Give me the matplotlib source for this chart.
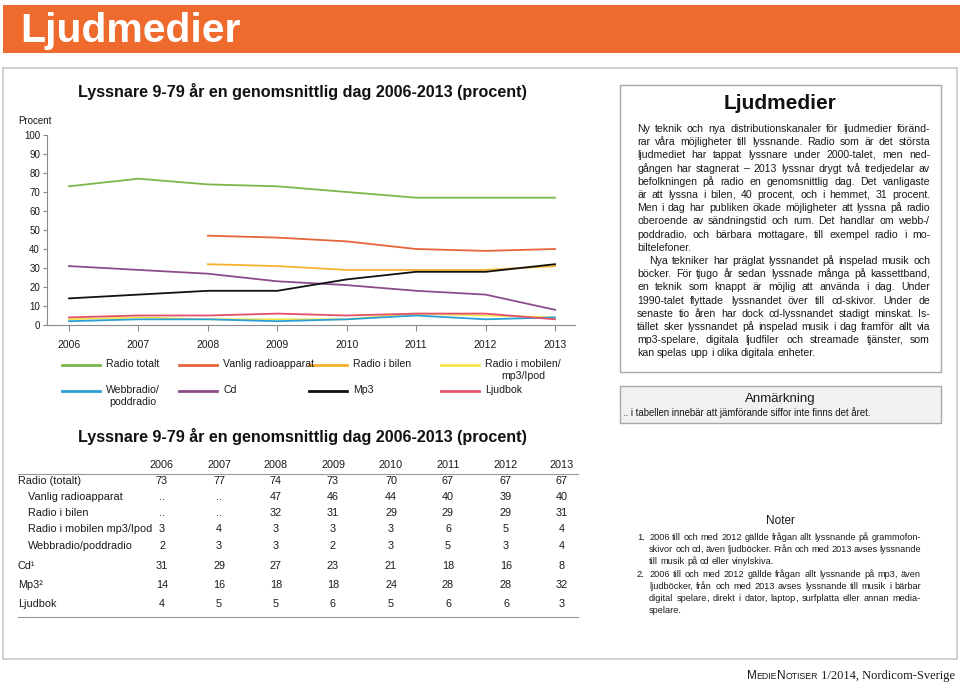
import numpy as np
import matplotlib
matplotlib.use("Agg")
import matplotlib.pyplot as plt
from matplotlib.patches import Rectangle

plt.rcParams['font.family'] = ['Liberation Sans', 'DejaVu Sans']

# Data (procent)
years = [2006, 2007, 2008, 2009, 2010, 2011, 2012, 2013]
radio_totalt = [73, 77, 74, 73, 70, 67, 67, 67]
vanlig_radio = [None, None, 47, 46, 44, 40, 39, 40]
radio_bilen = [None, None, 32, 31, 29, 29, 29, 31]
radio_mobil = [3, 4, 3, 3, 3, 6, 5, 4]
webbradio = [2, 3, 3, 2, 3, 5, 3, 4]
cd = [31, 29, 27, 23, 21, 18, 16, 8]
mp3 = [14, 16, 18, 18, 24, 28, 28, 32]
ljudbok = [4, 5, 5, 6, 5, 6, 6, 3]

series = [radio_totalt, vanlig_radio, radio_bilen, radio_mobil,
          webbradio, cd, mp3, ljudbok]
legend_labels = ["Radio totalt", "Vanlig radioapparat", "Radio i bilen",
                 "Radio i mobilen/\nmp3/Ipod", "Webbradio/\npoddradio",
                 "Cd", "Mp3", "Ljudbok"]
table_labels = ["Radio (totalt)", "Vanlig radioapparat", "Radio i bilen",
                "Radio i mobilen mp3/Ipod", "Webbradio/poddradio",
                "Cd\u00b9", "Mp3\u00b2", "Ljudbok"]
colors = ["#7ab648", "#e8643a", "#f5b12e", "#f3e64c",
          "#2b9fd6", "#8c4c8c", "#111111", "#e3506a"]

title = "Lyssnare 9-79 år en genomsnittlig dag 2006-2013 (procent)"

body_par1 = [
    "Ny teknik och nya distributionskanaler för ljudmedier föränd-",
    "rar våra möjligheter till lyssnande. Radio som är det största",
    "ljudmediet har tappat lyssnare under 2000-talet, men ned-",
    "gången har stagnerat – 2013 lyssnar drygt två tredjedelar av",
    "befolkningen på radio en genomsnittlig dag. Det vanligaste",
    "är att lyssna i bilen, 40 procent, och i hemmet, 31 procent.",
    "Men i dag har publiken ökade möjligheter att lyssna på radio",
    "oberoende av sändningstid och rum. Det handlar om webb-/",
    "poddradio, och bärbara mottagare, till exempel radio i mo-",
    "biltelefoner.",
]
body_par2 = [
    "Nya tekniker har präglat lyssnandet på inspelad musik och",
    "böcker. För tjugo år sedan lyssnade många på kassettband,",
    "en teknik som knappt är möjlig att använda i dag. Under",
    "1990-talet flyttade lyssnandet över till cd-skivor. Under de",
    "senaste tio åren har dock cd-lyssnandet stadigt minskat. Is-",
    "tället sker lyssnandet på inspelad musik i dag framför allt via",
    "mp3-spelare, digitala ljudfiler och streamade tjänster, som",
    "kan spelas upp i olika digitala enheter.",
]
note1 = [
    "2006 till och med 2012 gällde frågan allt lyssnande på grammofon-",
    "skivor och cd, även ljudböcker. Från och med 2013 avses lyssnande",
    "till musik på cd eller vinylskiva.",
]
note2 = [
    "2006 till och med 2012 gällde frågan allt lyssnande på mp3, även",
    "ljudböcker, från och med 2013 avses lyssnande till musik i bärbar",
    "digital spelare, direkt i dator, laptop, surfplatta eller annan media-",
    "spelare.",
]

txt = "#1a1a1a"

fig = plt.figure(figsize=(9.6, 6.85), dpi=100)
page = fig.add_axes([0, 0, 1, 1])
page.set_xlim(0, 960)
page.set_ylim(685, 0)
page.axis('off')
renderer = fig.canvas.get_renderer()

# header and frames
page.add_patch(Rectangle((3, 5), 957, 48, facecolor="#ef6a2d", edgecolor="none"))
page.text(20, 42, "Ljudmedier", color="white", fontsize=29.5,
          fontweight="bold", va="baseline")
page.add_patch(Rectangle((3, 68), 954, 591, facecolor="none",
                         edgecolor="#c8c8c8", lw=1.2))
page.add_patch(Rectangle((620, 85), 321, 287, facecolor="white",
                         edgecolor="#a8a8a8", lw=1.0))
page.add_patch(Rectangle((620, 386), 321, 37, facecolor="#f1f1f1",
                         edgecolor="#a8a8a8", lw=1.0))


def measure(s, size):
    t = page.text(0, 0, s, fontsize=size)
    w = t.get_window_extent(renderer).width
    t.remove()
    return w


def put_word(x, y, w, size):
    # trailing comma/slash drawn apart so the word keeps a steady baseline
    if len(w) > 1 and w[-1] in ",/":
        page.text(x, y, w[:-1], fontsize=size, va="baseline", color=txt)
        px = x + measure(w, size) - measure(w[-1], size) - 1.0
        page.text(px, y, w[-1], fontsize=size, va="baseline", color=txt)
    else:
        page.text(x, y, w, fontsize=size, va="baseline", color=txt)


def justify_block(lines, x0, x1, y, dy, size, indent=0):
    sp_w = measure("a a", size) - measure("aa", size)
    for i, line in enumerate(lines):
        left = x0 + (indent if i == 0 else 0)
        words = line.split(" ")
        widths = [measure(w, size) for w in words]
        if i == len(lines) - 1 or len(words) == 1:
            gap = sp_w
        else:
            gap = (x1 - left - sum(widths)) / (len(words) - 1)
        x = left
        for w, wd in zip(words, widths):
            put_word(x, y, w, size)
            x += wd + gap
        y += dy
    return y


# right text box
page.text(780, 103, "Ljudmedier", fontsize=15, fontweight="bold",
          ha="center", va="center", color="#111111")
y = justify_block(body_par1, 637, 930, 132, 13.2, 7.6)
justify_block(body_par2, 637, 930, y, 13.2, 7.6, indent=12)

page.text(780, 399, "Anmärkning", fontsize=9.5, ha="center", va="center",
          color=txt)
page.text(623, 413, ".. i tabellen innebär att jämförande siffor inte finns det året.",
          fontsize=6.9, va="center", color=txt)

# notes
page.text(780, 521, "Noter", fontsize=8.5, ha="center", va="center", color=txt)
page.text(637, 540, "1.", fontsize=6.7, va="baseline", color=txt)
y = justify_block(note1, 649, 921, 540, 12.2, 6.6)
page.text(637, y, "2.", fontsize=6.7, va="baseline", color=txt)
justify_block(note2, 649, 921, y, 12.2, 6.6)

# footer in small caps
pieces = [("M", 8.5, "sans"), ("EDIE", 6.3, "sans"), ("N", 8.5, "sans"),
          ("OTISER", 6.3, "sans"), (" 1/2014, Nordicom-Sverige", 9.0, "serif")]
fam = {"sans": ["Liberation Sans"], "serif": ["Liberation Serif"]}
widths = []
for s, size, f in pieces:
    t = page.text(0, 0, s.replace(" ", "\u00a0"), fontsize=size, family=fam[f])
    widths.append(t.get_window_extent(renderer).width)
    t.remove()
x = 955 - sum(widths)
for (s, size, f), wd in zip(pieces, widths):
    page.text(x, 679, s.replace(" ", "\u00a0"), fontsize=size,
              family=fam[f], va="baseline", color=txt)
    x += wd

# chart
page.text(302, 91, title, fontsize=11.6, fontweight="bold", ha="center",
          va="center", color="#111111")
page.text(18, 121, "Procent", fontsize=7, va="center", color=txt)

ax = fig.add_axes([47 / 960, 1 - 325 / 685, 528 / 960, 190 / 685])
ax.patch.set_alpha(0)
for vals, c in zip(series, colors):
    ax.plot(years, np.array(vals, dtype=float), color=c, lw=1.3)
ax.set_xlim(2005.683, 2013.288)
ax.set_ylim(0, 100)
ax.set_yticks(range(0, 101, 10))
ax.set_xticks(years)
for s in ["top", "right"]:
    ax.spines[s].set_visible(False)
for s in ["left", "bottom"]:
    ax.spines[s].set_color("#8a8a8a")
    ax.spines[s].set_linewidth(0.8)
ax.tick_params(axis="y", length=3, width=0.8, color="#8a8a8a",
               labelsize=7, labelcolor=txt, pad=2)
ax.tick_params(axis="x", length=4, width=0.8, color="#8a8a8a",
               labelsize=7.5, labelcolor=txt, pad=7)

# legend
col_x = [62, 179, 309, 441]
row_y = [365, 391]
for i, (lab, c) in enumerate(zip(legend_labels, colors)):
    lx = col_x[i % 4]
    ly = row_y[i // 4]
    page.plot([lx, lx + 38], [ly, ly], color=c, lw=2)
    page.text(lx + 44, ly - 6, lab, fontsize=7.6, va="top",
              multialignment="center", color=txt, linespacing=1.3)

# table
page.text(302, 436, title, fontsize=11.6, fontweight="bold", ha="center",
          va="center", color="#111111")
col_centers = [162, 219, 276, 333, 391, 448, 506, 562]
row_centers = [481, 497, 513, 529, 546, 566, 585, 604]
indented = [False, True, True, True, True, False, False, False]
for yr, cx in zip(years, col_centers):
    page.text(cx, 465, str(yr), fontsize=7.8, ha="center", va="center", color=txt)
page.plot([18, 578], [474, 474], color="#999999", lw=0.8)
page.plot([18, 578], [617, 617], color="#999999", lw=0.8)
for lab, vals, ry, ind in zip(table_labels, series, row_centers, indented):
    page.text(28 if ind else 18, ry, lab, fontsize=7.8, va="center", color=txt)
    for v, cx in zip(vals, col_centers):
        page.text(cx, ry, ".." if v is None else str(v), fontsize=7.8,
                  ha="center", va="center", color=txt)

fig.savefig("out.png", dpi=100)
